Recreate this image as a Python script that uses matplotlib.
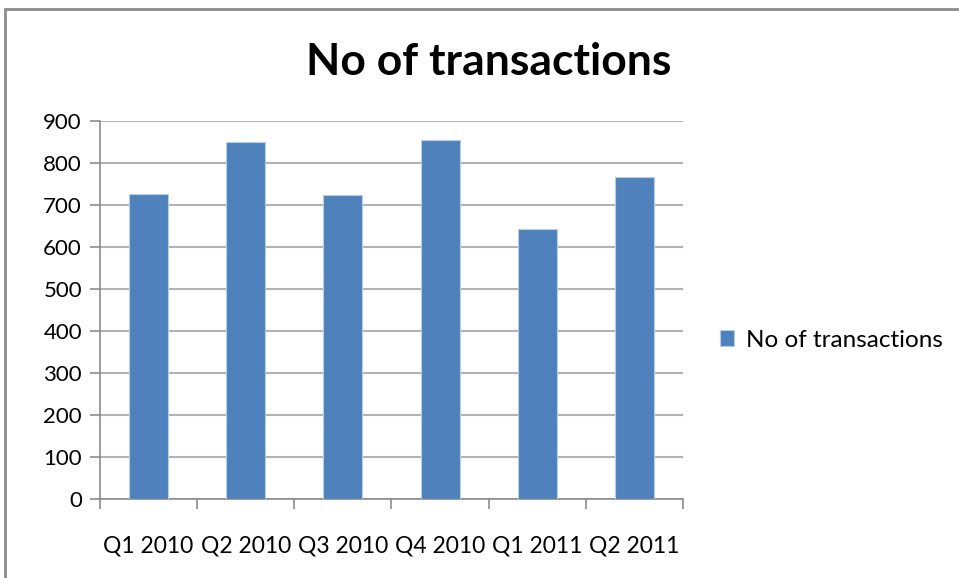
import matplotlib.pyplot as plt
from matplotlib.patches import Rectangle

quarters = ["Q1 2010", "Q2 2010", "Q3 2010", "Q4 2010", "Q1 2011", "Q2 2011"]
transactions = [727, 850, 723, 855, 643, 767]
yticks = [0, 100, 200, 300, 400, 500, 600, 700, 800, 900]

plt.rcParams['font.family'] = ['Lato', 'DejaVu Sans']

fig = plt.figure(figsize=(9.59, 5.78), dpi=100)
ax = fig.add_axes([100 / 959, 1 - 499 / 578, 583 / 959, 378 / 578])

# outer chart border (cut off on right and bottom)
fig.patches.append(Rectangle((5 / 959, -0.1), 1.2, 1 - 9 / 578 + 0.1,
                             transform=fig.transFigure, fill=False,
                             edgecolor="#8c8c8c", linewidth=2))

x = range(len(quarters))
ax.bar(x, transactions, width=0.4, color="#4F81BD", edgecolor="#b9cde5",
       linewidth=0.8, label="No of transactions", zorder=3)

ax.set_xlim(-0.5, len(quarters) - 0.5)
ax.set_ylim(0, 900)
ax.set_yticks(yticks)
ax.set_yticklabels([str(v) for v in yticks], fontsize=16)
ax.yaxis.grid(True, color="#b3b3b3", linewidth=1.5, zorder=0)

ax.set_xticks([i - 0.5 for i in range(len(quarters) + 1)])
ax.set_xticklabels([])
ax.set_xticks(list(x), minor=True)
ax.set_xticklabels(quarters, minor=True, fontsize=16.5)
ax.tick_params(axis="x", which="minor", length=0, pad=26)
ax.tick_params(axis="x", which="major", length=7, color="#8c8c8c", width=1.2)
ax.tick_params(axis="y", length=7, color="#8c8c8c", width=1.2, pad=6)

for s in ["top", "right"]:
    ax.spines[s].set_visible(False)
for s in ["left", "bottom"]:
    ax.spines[s].set_color("#8c8c8c")
    ax.spines[s].set_linewidth(1.2)

fig.text(489 / 959, 1 - 62 / 578, "No of transactions", ha="center", va="center",
         fontsize=32, fontweight="bold")

ax.legend(loc="center left", bbox_to_anchor=(1.063, 0.42), frameon=False,
          fontsize=17.5, handlelength=0.6, handleheight=0.6, handletextpad=0.5,
          borderpad=0, borderaxespad=0)

fig.savefig("out.png", dpi=100)
